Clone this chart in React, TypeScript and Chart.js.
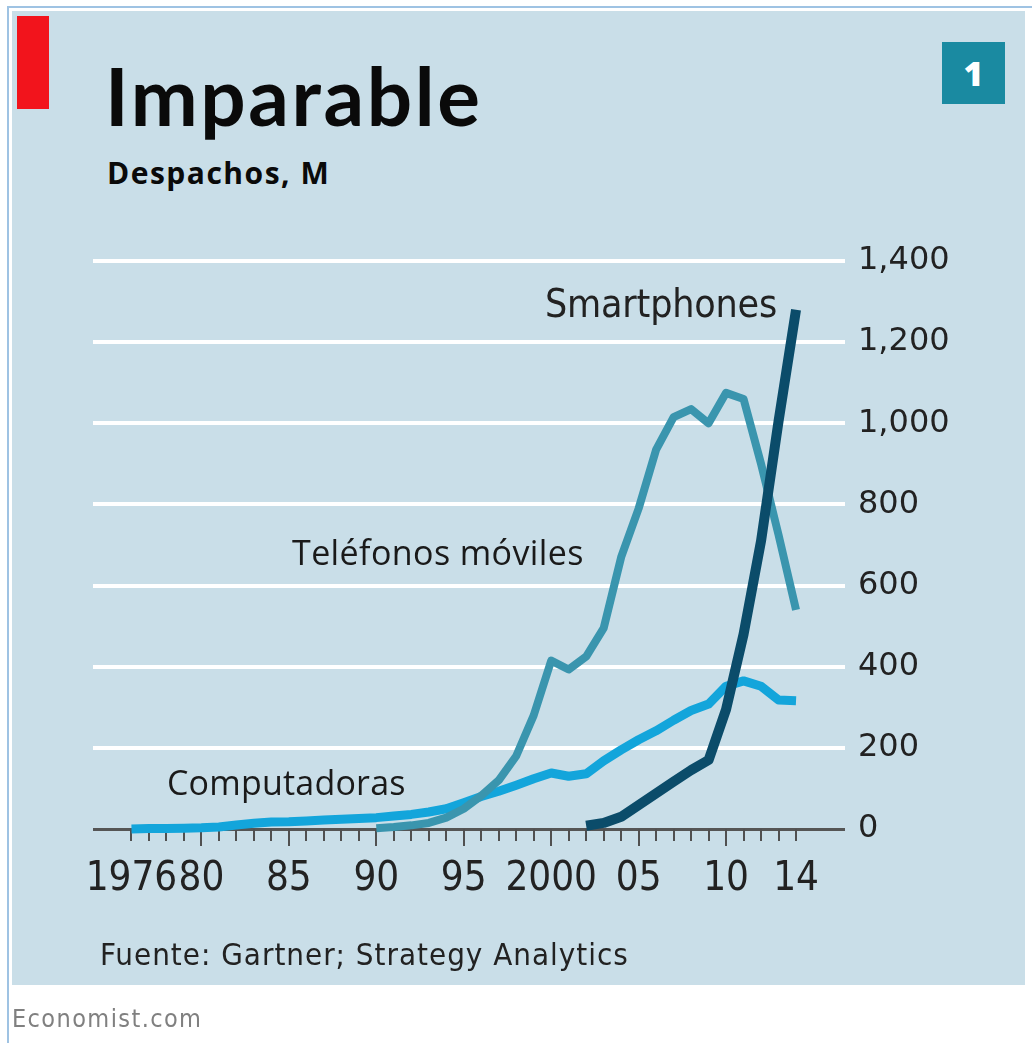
import React, { useEffect, useRef } from 'react';
import { Chart, registerables } from 'chart.js';

Chart.register(...registerables);

// ---- data (millions of units shipped) ----
const computadorasStart = 1976;
const computadoras = [
  0, 1, 1, 2, 3, 5, 10, 14, 17, 18, 20, 22, 24, 26,
  28, 32, 36, 42, 50, 65, 80, 93, 108, 124,
  138, 130, 136, 168, 195, 220, 242, 268, 292, 308,
  352, 365, 352, 318, 316,
];

const telefonosStart = 1990;
const telefonos = [
  2, 5, 9, 15, 28, 50, 82, 120, 180, 280,
  415, 393, 425, 495, 670, 790, 935, 1015, 1035, 1000,
  1075, 1060, 900, 725, 540,
];

const smartphonesStart = 2002;
const smartphones = [8, 15, 30, 59, 88, 117, 145, 170, 295, 480, 710, 1005, 1280];

const xTickYears = [1976, 1980, 1985, 1990, 1995, 2000, 2005, 2010, 2014];
const xTickLabels = ['1976', '80', '85', '90', '95', '2000', '05', '10', '14'];
const firstYear = 1976;
const lastYear = 2014;

const yTickValues = [0, 200, 400, 600, 800, 1000, 1200, 1400];

const seriesNames = ['Smartphones', 'Teléfonos móviles', 'Computadoras'];

const toPoints = (start: number, arr: number[]) => arr.map((v, i) => ({ x: start + i, y: v }));

const yearTicksPlugin = {
  id: 'yearTicks',
  beforeDatasetsDraw(chart: any) {
    const { ctx, scales } = chart;
    const x = scales.x;
    const y = scales.y;
    const y0 = y.getPixelForValue(0);
    ctx.save();
    ctx.strokeStyle = '#505050';
    ctx.lineWidth = 2;
    for (let yr = firstYear; yr <= lastYear; yr++) {
      const px = Math.round(x.getPixelForValue(yr));
      const len = yr % 5 === 0 ? 17 : 12;
      ctx.beginPath();
      ctx.moveTo(px, y0);
      ctx.lineTo(px, y0 + len);
      ctx.stroke();
    }
    ctx.restore();
  },
};

export default function App() {
  const canvasRef = useRef<HTMLCanvasElement | null>(null);

  useEffect(() => {
    if (!canvasRef.current) return;
    const chart = new Chart(canvasRef.current, {
      type: 'line',
      data: {
        datasets: [
          {
            label: seriesNames[0],
            data: toPoints(smartphonesStart, smartphones),
            borderColor: '#0b4c6a',
            borderWidth: 10,
            order: 1,
          },
          {
            label: seriesNames[1],
            data: toPoints(telefonosStart, telefonos),
            borderColor: '#3a95ae',
            borderWidth: 8,
            order: 2,
          },
          {
            label: seriesNames[2],
            data: toPoints(computadorasStart, computadoras),
            borderColor: '#13a5db',
            borderWidth: 9,
            order: 3,
          },
        ].map((d) => ({
          ...d,
          pointRadius: 0,
          tension: 0,
          fill: false,
          clip: false as any,
          borderJoinStyle: 'round' as const,
          borderCapStyle: 'butt' as const,
        })),
      },
      options: {
        animation: false,
        responsive: false,
        devicePixelRatio: 1,
        layout: { padding: { left: 93, top: 261, right: 0, bottom: 0 } },
        plugins: { legend: { display: false }, tooltip: { enabled: false } },
        scales: {
          x: {
            type: 'linear',
            position: 'bottom',
            min: 1973.8,
            max: 2016.8,
            afterBuildTicks: (s: any) => {
              s.ticks = xTickYears.map((v) => ({ value: v }));
            },
            afterFit: (s: any) => {
              s.height = 214;
            },
            grid: { display: false, drawTicks: false },
            border: { display: false },
            ticks: {
              autoSkip: false,
              maxRotation: 0,
              minRotation: 0,
              padding: 27,
              color: '#222',
              font: { family: "'Liberation Sans Narrow', 'DejaVu Sans Condensed', sans-serif", size: 40 },
              callback: (v: any) => {
                const i = xTickYears.indexOf(Number(v));
                return i >= 0 ? xTickLabels[i] : '';
              },
            },
          },
          y: {
            type: 'linear',
            position: 'right',
            min: 0,
            max: 1400,
            afterBuildTicks: (s: any) => {
              s.ticks = yTickValues.map((v) => ({ value: v }));
            },
            afterFit: (s: any) => {
              s.width = 187;
            },
            grid: {
              drawTicks: false,
              color: (c: any) => (c.tick && c.tick.value === 0 ? '#555' : '#ffffff'),
              lineWidth: (c: any) => (c.tick && c.tick.value === 0 ? 3 : 4),
            },
            border: { display: false },
            ticks: {
              padding: 13,
              color: '#222',
              font: { family: "'DejaVu Sans', sans-serif", size: 32 },
              callback: (v: any) => Number(v).toLocaleString('en-US'),
            },
          },
        },
      },
      plugins: [yearTicksPlugin],
    } as any);
    return () => chart.destroy();
  }, []);

  const abs = (s: React.CSSProperties): React.CSSProperties => ({ position: 'absolute', ...s });

  return (
    <div style={abs({ left: 0, top: 0, width: 1032, height: 1043, background: '#fff', overflow: 'hidden' })}>
      <div style={abs({ left: 7, top: 6, width: 1025, height: 2, background: '#9fc3e3' })} />
      <div style={abs({ left: 7, top: 6, width: 2, height: 1037, background: '#9fc3e3' })} />
      <div style={abs({ left: 12, top: 11, width: 1013, height: 974, background: '#c9dee8' })} />
      <div style={abs({ left: 17, top: 16, width: 32, height: 93, background: '#f2141c' })} />
      <div
        style={abs({
          left: 105,
          top: 55,
          fontFamily: 'Lato, sans-serif',
          fontWeight: 700,
          fontSize: 80,
          lineHeight: '80px',
          letterSpacing: 2.6,
          color: '#0a0a0a',
          whiteSpace: 'nowrap',
        })}
      >
        Imparable
      </div>
      <div
        style={abs({
          left: 107,
          top: 155,
          fontFamily: "'Open Sans', sans-serif",
          fontWeight: 700,
          fontSize: 30,
          lineHeight: '36px',
          letterSpacing: 1.5,
          color: '#0a0a0a',
          whiteSpace: 'nowrap',
        })}
      >
        Despachos, M
      </div>
      <div
        style={abs({
          left: 942,
          top: 42,
          width: 63,
          height: 62,
          background: '#1a8aa1',
          color: '#fff',
          fontFamily: "'Open Sans', sans-serif",
          fontWeight: 800,
          fontSize: 34,
          lineHeight: '62px',
          textAlign: 'center',
        })}
      >
        1
      </div>
      <canvas ref={canvasRef} width={1032} height={1043} style={abs({ left: 0, top: 0, width: 1032, height: 1043 })} />
      <div
        style={abs({
          left: 545,
          top: 281,
          fontFamily: "'DejaVu Sans Condensed', sans-serif",
          fontSize: 39,
          lineHeight: '46px',
          letterSpacing: -0.2,
          color: '#222',
          whiteSpace: 'nowrap',
        })}
      >
        {seriesNames[0]}
      </div>
      <div
        style={abs({
          left: 292,
          top: 530,
          fontFamily: "'Open Sans', sans-serif",
          fontSize: 34,
          lineHeight: '44px',
          letterSpacing: 0.4,
          color: '#1a1a1a',
          whiteSpace: 'nowrap',
        })}
      >
        {seriesNames[1]}
      </div>
      <div
        style={abs({
          left: 167,
          top: 760,
          fontFamily: "'Open Sans', sans-serif",
          fontSize: 34,
          lineHeight: '44px',
          letterSpacing: 0.2,
          color: '#1a1a1a',
          whiteSpace: 'nowrap',
        })}
      >
        {seriesNames[2]}
      </div>
      <div
        style={abs({
          left: 100,
          top: 935,
          fontFamily: "'DejaVu Sans Condensed', sans-serif",
          fontSize: 31,
          lineHeight: '38px',
          letterSpacing: 1,
          color: '#222',
          whiteSpace: 'nowrap',
        })}
      >
        Fuente: Gartner; Strategy Analytics
      </div>
      <div
        style={abs({
          left: 12,
          top: 1004,
          fontFamily: "'DejaVu Sans Condensed', sans-serif",
          fontSize: 25,
          lineHeight: '30px',
          letterSpacing: 1.4,
          color: '#808080',
          whiteSpace: 'nowrap',
        })}
      >
        Economist.com
      </div>
    </div>
  );
}
